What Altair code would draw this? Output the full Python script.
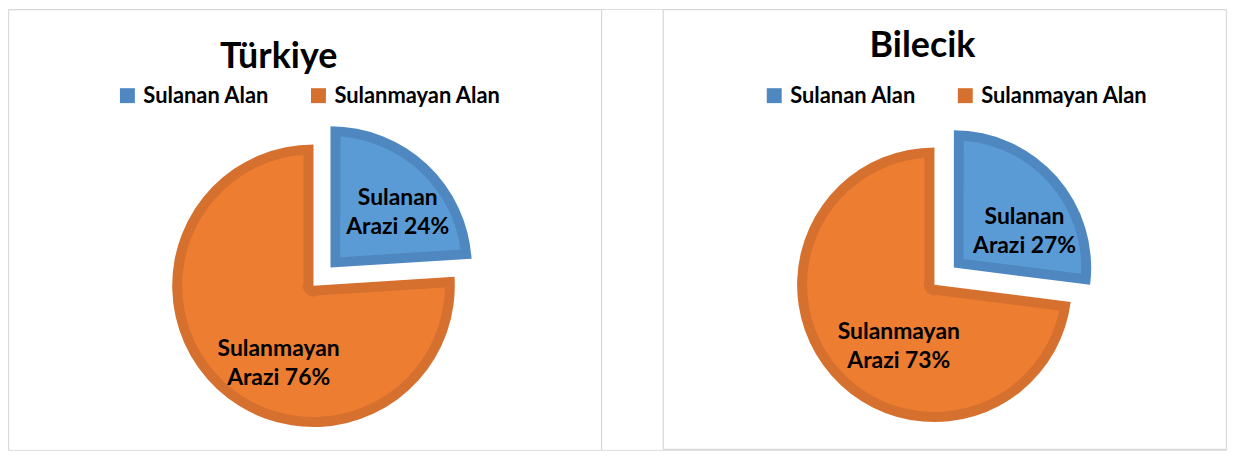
import altair as alt
import pandas as pd

# ---------------- data ----------------
panels = ["Türkiye", "Bilecik"]
categories = ["Sulanan Alan", "Sulanmayan Alan"]
label_first = ["Sulanan", "Sulanmayan"]
label_second = "Arazi"
turkiye_values = [24, 76]
bilecik_values = [27, 73]
panel_values = {"Türkiye": turkiye_values, "Bilecik": bilecik_values}

# ---------------- style / layout ----------------
FILL = ["#5B9BD5", "#ED7D31"]
BAND = ["#4F88C1", "#D6702E"]
BORDER = "#D9D9D9"
FONT = "Lato"
BAND_W = 10

layout = {
    "Türkiye": dict(cx=307, cy=278, r=142, explode=25,
                    lab=[(0.685, 0.8), (0.512, -14.4)],
                    tx=272, ty=59, lx=109),
    "Bilecik": dict(cx=931, cy=277, r=138, explode=26,
                    lab=[(0.633, 5.8), (0.431, -11.6)],
                    tx=919, ty=48, lx=759),
}

# panel frame edges (x1, y1, x2, y2); left frame runs off the bottom of the page
frame_edges = [
    (0.5, 0.5, 596.5, 0.5), (0.5, 0.5, 0.5, 443), (596.5, 0.5, 596.5, 443),
    (658.5, 0.5, 1224.5, 0.5), (658.5, 0.5, 658.5, 442.5),
    (1224.5, 0.5, 1224.5, 442.5), (658.5, 442.5, 1224.5, 442.5),
]

rows = []
for p in panels:
    L = layout[p]
    for i, c in enumerate(categories):
        rows.append(dict(panel=p, category=c, order=i, value=panel_values[p][i],
                         first=label_first[i], cx=L["cx"], cy=L["cy"], R=L["r"],
                         ex=L["explode"] if i == 0 else 0,
                         lr=L["lab"][i][0], lrot=L["lab"][i][1],
                         fill=FILL[i]))
df = pd.DataFrame(rows)

titles_df = pd.DataFrame({"panel": panels,
                          "tx": [layout[p]["tx"] for p in panels],
                          "ty": [layout[p]["ty"] for p in panels]})
edges_df = pd.DataFrame(frame_edges, columns=["x1", "y1", "x2", "y2"])

theta_scale = alt.Scale(domain=[0, 100], range=[0, 6.283185307179586])


def base(panel):
    return (
        alt.Chart(df)
        .transform_filter(alt.datum.panel == panel)
        .transform_window(cum="sum(value)", sort=[alt.SortField("order")],
                          frame=[None, 0])
        .transform_calculate(
            start="datum.cum - datum.value",
            end="datum.cum",
            mid="(datum.cum - datum.value / 2) / 100 * 2 * PI",
            half="datum.value / 100 * PI",
            acx="datum.cx + datum.ex * sin(datum.mid)",
            acy="datum.cy - datum.ex * cos(datum.mid)",
            r1=f"datum.R - {BAND_W}",
            r0=f"datum.half < PI / 2 ? 0.98 * {BAND_W} / sin(datum.half) : {BAND_W} + 0.6",
            pad=f"2 * asin({BAND_W} / sqrt(datum.r0 * datum.r0 + datum.r1 * datum.r1))",
            la="datum.mid + datum.lrot * PI / 180",
            lxp="datum.acx + datum.lr * datum.R * sin(datum.la)",
            lyp="datum.acy - datum.lr * datum.R * cos(datum.la)",
            lines=f"[datum.first, '{label_second} ' + datum.value + '%']",
        )
    )


def pie(panel):
    L = layout[panel]
    b = base(panel)
    dark = b.mark_arc(stroke=None).encode(
        theta=alt.Theta("start:Q", scale=theta_scale),
        theta2="end:Q",
        radius=alt.Radius("R:Q", scale=None),
        x=alt.X("acx:Q", scale=None),
        y=alt.Y("acy:Q", scale=None),
        color=alt.Color(
            "category:N",
            scale=alt.Scale(domain=categories, range=BAND),
            legend=alt.Legend(
                orient="none", legendX=L["lx"], legendY=76,
                direction="horizontal", title=None,
                symbolType="square", symbolSize=225, symbolStrokeWidth=0,
                symbolOpacity=1,
                labelFont=FONT, labelFontWeight="bold", labelFontSize=22,
                labelColor="black", labelOffset=5, columnPadding=38,
                labelLimit=400,
            ),
        ),
    )
    inner = b.mark_arc(stroke=None, padAngle=alt.ExprRef(expr="datum.pad")).encode(
        theta=alt.Theta("start:Q", scale=theta_scale),
        theta2="end:Q",
        radius=alt.Radius("r1:Q", scale=None),
        radius2=alt.Radius2("r0:Q"),
        x=alt.X("acx:Q", scale=None),
        y=alt.Y("acy:Q", scale=None),
        color=alt.Color("fill:N", scale=None),
    )
    labels = b.mark_text(
        font=FONT, fontWeight="bold", fontSize=23, color="black",
        align="center", baseline="middle", lineHeight=29,
    ).encode(
        x=alt.X("lxp:Q", scale=None),
        y=alt.Y("lyp:Q", scale=None),
        text=alt.Text("lines:N"),
    )
    return alt.layer(dark, inner, labels)


frames = alt.Chart(edges_df).mark_rule(color=BORDER, strokeWidth=1.3).encode(
    x=alt.X("x1:Q", scale=None), x2="x2:Q",
    y=alt.Y("y1:Q", scale=None), y2="y2:Q",
)

titles = alt.Chart(titles_df).mark_text(
    font=FONT, fontWeight="bold", fontSize=36, color="black",
    align="center", baseline="alphabetic",
).encode(
    x=alt.X("tx:Q", scale=None),
    y=alt.Y("ty:Q", scale=None),
    text="panel:N",
)

chart = (
    alt.layer(frames, titles, pie("Türkiye"), pie("Bilecik"))
    .resolve_scale(color="independent")
    .properties(width=1225, height=443, padding=0,
                autosize=alt.AutoSizeParams(type="none"))
    .configure_view(stroke=None)
    .configure(background="white")
)

chart.save("out.html", embed_options={"renderer": "svg", "actions": False})
